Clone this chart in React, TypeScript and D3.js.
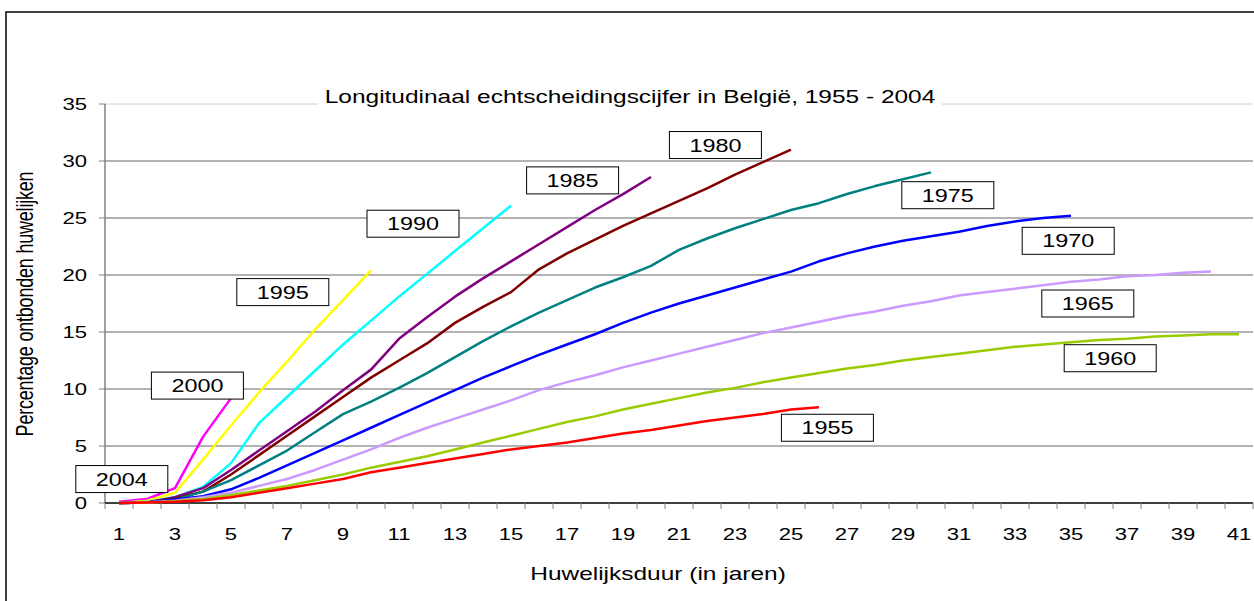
import React from "react";
import * as d3 from "d3";

// marriage duration categories (years)
const years = d3.range(1, 42);
const yTicks = [0, 5, 10, 15, 20, 25, 30, 35];

// cumulative % dissolved marriages per marriage cohort, by duration
const d1955 = [0, 0.05, 0.1, 0.25, 0.5, 0.9, 1.3, 1.7, 2.1, 2.7, 3.1, 3.5, 3.9, 4.3, 4.7, 5.0, 5.3, 5.7, 6.1, 6.4, 6.8, 7.2, 7.5, 7.8, 8.2, 8.4];
const d1960 = [0, 0.05, 0.15, 0.35, 0.7, 1.1, 1.5, 2.0, 2.5, 3.1, 3.6, 4.1, 4.7, 5.3, 5.9, 6.5, 7.1, 7.6, 8.2, 8.7, 9.2, 9.7, 10.1, 10.6, 11.0, 11.4, 11.8, 12.1, 12.5, 12.8, 13.1, 13.4, 13.7, 13.9, 14.1, 14.3, 14.4, 14.6, 14.7, 14.8, 14.8];
const d1965 = [0, 0.05, 0.2, 0.5, 0.9, 1.5, 2.1, 2.9, 3.8, 4.7, 5.7, 6.6, 7.4, 8.2, 9.0, 9.9, 10.6, 11.2, 11.9, 12.5, 13.1, 13.7, 14.3, 14.9, 15.4, 15.9, 16.4, 16.8, 17.3, 17.7, 18.2, 18.5, 18.8, 19.1, 19.4, 19.6, 19.9, 20.0, 20.2, 20.3];
const d1970 = [0, 0.05, 0.3, 0.6, 1.2, 2.2, 3.3, 4.4, 5.5, 6.6, 7.7, 8.8, 9.9, 11.0, 12.0, 13.0, 13.9, 14.8, 15.8, 16.7, 17.5, 18.2, 18.9, 19.6, 20.3, 21.2, 21.9, 22.5, 23.0, 23.4, 23.8, 24.3, 24.7, 25.0, 25.2];
const d1975 = [0, 0.05, 0.3, 1.0, 2.0, 3.3, 4.6, 6.2, 7.8, 8.9, 10.1, 11.4, 12.8, 14.2, 15.5, 16.7, 17.8, 18.9, 19.8, 20.8, 22.2, 23.2, 24.1, 24.9, 25.7, 26.3, 27.1, 27.8, 28.4, 29.0];
const d1980 = [0, 0.05, 0.4, 1.0, 2.5, 4.2, 5.9, 7.6, 9.3, 11.0, 12.5, 14.0, 15.8, 17.2, 18.5, 20.5, 21.9, 23.1, 24.3, 25.4, 26.5, 27.6, 28.8, 29.9, 31.0];
const d1985 = [0, 0.05, 0.5, 1.3, 2.9, 4.6, 6.3, 8.0, 9.9, 11.7, 14.4, 16.3, 18.1, 19.7, 21.2, 22.7, 24.2, 25.7, 27.1, 28.6];
const d1990 = [0, 0.1, 0.5, 1.4, 3.5, 7.0, 9.3, 11.6, 13.9, 16.0, 18.1, 20.1, 22.1, 24.1, 26.1];
const d1995 = [0, 0.2, 0.9, 3.8, 6.8, 9.7, 12.4, 15.2, 17.8, 20.4];
const d2000 = [0.1, 0.35, 1.3, 5.8, 9.2];
const d2004 = [0.1];

const cohorts = ["2004", "2000", "1995", "1990", "1985", "1980", "1975", "1970", "1965", "1960", "1955"];
const colors = ["#000080", "#FF00FF", "#FFFF00", "#00FFFF", "#800080", "#800000", "#008080", "#0000FF", "#CC99FF", "#99CC00", "#FF0000"];
const values = [d2004, d2000, d1995, d1990, d1985, d1980, d1975, d1970, d1965, d1960, d1955];

// where each cohort's label box sits, in (duration, percentage)
const labelAt = [[1.1, 2.1], [3.8, 10.3], [6.85, 18.5], [11.5, 24.5], [17.2, 28.3], [22.3, 31.4], [30.6, 27.0], [34.9, 23.0], [35.6, 17.5], [36.4, 12.7], [26.3, 6.6]];

const W = 1254;
const H = 601;
const font = "'Liberation Sans', Arial, sans-serif";
const SX = 1.3; // the original is stretched sideways

export default function App() {
  const x = d3.scaleBand<number>().domain(years).range([105, 1253]);
  const bw = x.bandwidth();
  const xc = (d: number) => (x(d) as number) + bw / 2;
  const xLin = d3.scaleLinear().domain([1, 41]).range([xc(1), xc(41)]);
  const y = d3.scaleLinear().domain([0, 35]).range([503, 104]);
  const line = d3
    .line<number>()
    .x((_, i) => xc(years[i]))
    .y((v) => y(v));

  const txt = (tx: number, ty: number, s: string, size: number, anchor = "middle", key?: string, sx = SX) => (
    <text
      key={key}
      transform={`translate(${tx},${ty}) scale(${sx},1)`}
      textAnchor={anchor}
      fontSize={size}
      fontFamily={font}
      fill="#000"
    >
      {s}
    </text>
  );

  return (
    <svg width={W} height={H} style={{ position: "absolute", left: 0, top: 0, background: "#fff" }}>
      {/* outer frame */}
      <path d={`M6,${H} V12 H${W}`} fill="none" stroke="#000" strokeWidth={1.5} />

      {/* gridlines */}
      {yTicks.slice(1).map((t) => (
        <line key={t} x1={105} x2={1253} y1={y(t)} y2={y(t)} stroke={t === 35 ? "#d0d0d0" : "#666"} strokeWidth={1} />
      ))}

      {/* title */}
      <rect x={318} y={86} width={624} height={22} fill="#fff" />
      {txt(630, 103, "Longitudinaal echtscheidingscijfer in België, 1955 - 2004", 18, "middle", undefined, 1.36)}

      {/* y axis */}
      <line x1={105} x2={105} y1={y(35)} y2={y(0)} stroke="#808080" strokeWidth={1.5} />
      {yTicks.map((t) => (
        <g key={t}>
          <line x1={99} x2={105} y1={y(t)} y2={y(t)} stroke="#808080" />
          {txt(87, y(t) + 6, String(t), 17, "end")}
        </g>
      ))}
      <text
        transform={`translate(33,304) scale(${SX},1) rotate(-90)`}
        textAnchor="middle"
        fontSize={18}
        fontFamily={font}
        letterSpacing={-0.2}
      >
        Percentage ontbonden huwelijken
      </text>

      {/* x axis */}
      <line x1={105} x2={1253} y1={503} y2={503} stroke="#000" strokeWidth={1.5} />
      {years.concat([42]).map((d) => {
        const px = d === 42 ? 1253 : (x(d) as number);
        return <line key={d} x1={px} x2={px} y1={503} y2={509} stroke="#808080" />;
      })}
      {years.filter((d) => d % 2 === 1).map((d) => txt(xc(d), 540, String(d), 17, "middle", "xl" + d))}
      {txt(658, 580, "Huwelijksduur (in jaren)", 18, "middle", undefined, 1.36)}

      {/* series */}
      {values.map((vals, i) => (
        <path key={cohorts[i]} d={line(vals) || ""} fill="none" stroke={colors[i]} strokeWidth={2.5} strokeLinejoin="round" />
      ))}

      {/* cohort labels */}
      {cohorts.map((c, i) => {
        const cx = xLin(labelAt[i][0]);
        const cy = y(labelAt[i][1]);
        return (
          <g key={"lb" + c}>
            <rect x={cx - 46} y={cy - 13.5} width={92} height={27} fill="#fff" stroke="#000" strokeWidth={1} />
            {txt(cx, cy + 6.5, c, 18)}
          </g>
        );
      })}
    </svg>
  );
}
